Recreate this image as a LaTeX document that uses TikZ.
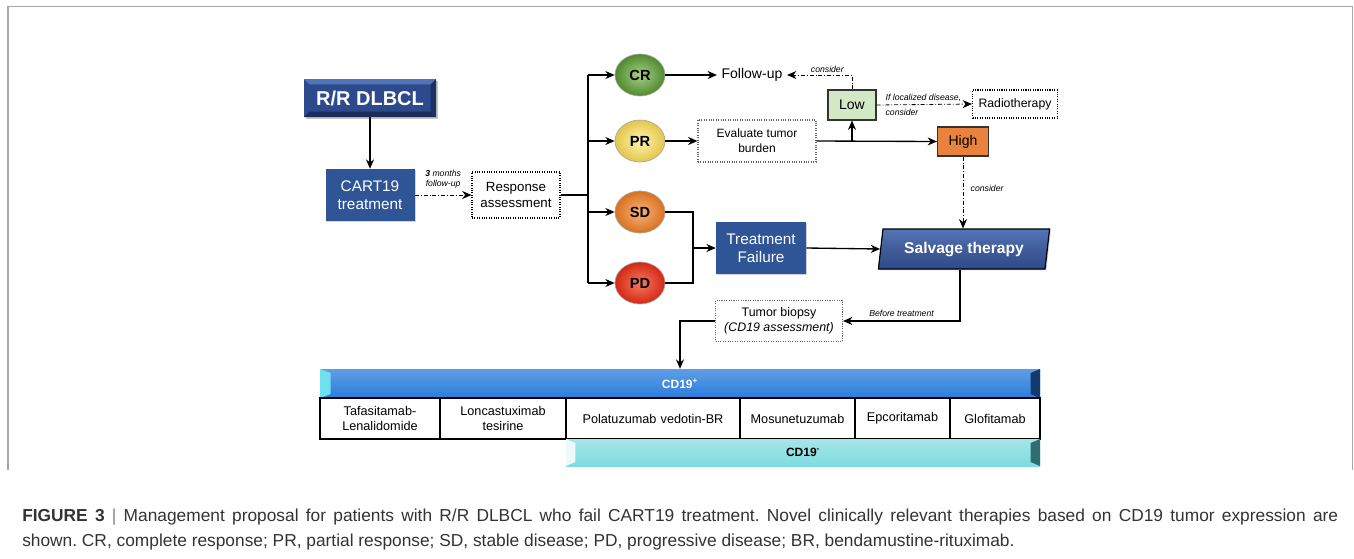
\documentclass[tikz,border=0pt]{standalone}
\usepackage{fontspec}
\setmainfont{Liberation Sans}
\usetikzlibrary{arrows.meta,positioning,shapes.geometric,shadows}
\definecolor{navyblue}{HTML}{2C4A8C}
\definecolor{navydark}{HTML}{1A2C58}
\definecolor{navylight}{HTML}{5275B8}
\definecolor{boxblue}{HTML}{2F5597}
\definecolor{lowgreen}{HTML}{D3E8C5}
\definecolor{highorange}{HTML}{E8823C}
\definecolor{posblue}{HTML}{2A7DDD}
\definecolor{posdark}{HTML}{123A70}
\definecolor{poslight}{HTML}{6FE0F0}
\definecolor{negcyan}{HTML}{7EDCDE}
\definecolor{negdark}{HTML}{2E6E72}
\definecolor{framegray}{HTML}{A8A8A8}
\definecolor{captext}{HTML}{333333}
\definecolor{crin}{HTML}{A8D08A}
\definecolor{crout}{HTML}{4E8A2C}
\definecolor{prin}{HTML}{FFF4B0}
\definecolor{prout}{HTML}{E2C64A}
\definecolor{sdin}{HTML}{F9B27C}
\definecolor{sdout}{HTML}{D8721E}
\definecolor{pdin}{HTML}{F87A62}
\definecolor{pdout}{HTML}{D22814}
\tikzset{
  rrbox/.style={
    rectangle,
    fill=navyblue,
    text=white,
    font=\bfseries\fontsize{15}{18}\selectfont,
    minimum width=99pt,
    minimum height=28.5pt,
    inner sep=0pt,
    drop shadow={shadow xshift=1.5pt,shadow yshift=-1.5pt,opacity=0.45},
    path picture={
      \fill[navylight] (path picture bounding box.north west) -- (path picture bounding box.north east)
        -- ([shift={(-4pt,-4pt)}]path picture bounding box.north east) -- ([shift={(4pt,-4pt)}]path picture bounding box.north west) -- cycle;
      \fill[navydark] (path picture bounding box.south west) -- (path picture bounding box.south east)
        -- ([shift={(-4pt,4pt)}]path picture bounding box.south east) -- ([shift={(4pt,4pt)}]path picture bounding box.south west) -- cycle;
      \fill[navydark!80!navyblue] (path picture bounding box.north east) -- (path picture bounding box.south east)
        -- ([shift={(-4pt,4pt)}]path picture bounding box.south east) -- ([shift={(-4pt,-4pt)}]path picture bounding box.north east) -- cycle;
    }
  },
  bluebox/.style={
    rectangle,
    fill=boxblue,
    text=white,
    align=center,
    font=\fontsize{11.5}{13.5}\selectfont,
    inner sep=0pt,
    drop shadow={shadow xshift=1pt,shadow yshift=-1pt,opacity=0.35}
  },
  dotbox/.style={
    rectangle,
    draw=black,
    densely dotted,
    line width=0.8pt,
    fill=white,
    align=center,
    inner sep=0pt,
    font=\fontsize{10}{12}\selectfont
  },
  respball/.style={
    ellipse,
    draw=gray!70,
    line width=0.5pt,
    minimum width=37.5pt,
    minimum height=31.5pt,
    inner sep=0pt,
    font=\bfseries\fontsize{11}{13}\selectfont
  },
  levelbox/.style={
    rectangle,
    draw=black!80,
    line width=0.8pt,
    inner sep=0pt,
    font=\fontsize{10.5}{12}\selectfont
  },
  salvbox/.style={
    trapezium,
    trapezium left angle=77,
    trapezium right angle=103,
    trapezium stretches=true,
    minimum width=129pt,
    minimum height=30pt,
    inner sep=0pt,
    draw=black,
    line width=0.9pt,
    top color=navylight,
    bottom color=navyblue,
    middle color=navyblue!90!white,
    text=white,
    font=\bfseries\fontsize{11.7}{14}\selectfont,
    drop shadow={shadow xshift=1pt,shadow yshift=-1pt,opacity=0.35}
  },
  drugcell/.style={
    rectangle,
    draw=black,
    line width=0.8pt,
    minimum height=30.75pt,
    inner sep=0pt,
    outer sep=0pt,
    align=center,
    font=\fontsize{9.5}{11.5}\selectfont
  },
  cdbar/.style={
    rectangle,
    inner sep=0pt,
    font=\bfseries\fontsize{9}{11}\selectfont
  },
  flowline/.style={-{Stealth[length=7pt,width=6pt]},line width=1pt},
  plainline/.style={line width=1pt},
  dashflow/.style={-{Stealth[length=7pt,width=6pt]},line width=0.6pt,dash pattern=on 3pt off 1.5pt on 0.6pt off 1.5pt},
  smallnote/.style={font=\itshape\fontsize{6.5}{7.5}\selectfont,inner sep=1.5pt}
}
\begin{document}
\begin{tikzpicture}[x=0.75pt,y=-0.75pt]
  \useasboundingbox (0,0) rectangle (1354,558);
  \draw[framegray,line width=0.9pt] (8,470) -- (8,6.5) -- (1352.5,6.5) -- (1352.5,470);

  % start and response
  \node[rrbox] (rr) at (370,98) {R/R DLBCL};
  \node[bluebox,minimum width=66.75pt,minimum height=39pt] (cart) at (370,195) {CART19\\treatment};
  \node[dotbox,minimum width=66pt,minimum height=34.5pt] (resp) at (516,195) {Response\\assessment};
  \coordinate (trunk) at (588,195);

  \node[respball,inner color=crin,outer color=crout] (cr) at (640,75) {CR};
  \node[respball,inner color=prin,outer color=prout] (pr) at (640,141) {PR};
  \node[respball,inner color=sdin,outer color=sdout] (sd) at (640,212) {SD};
  \node[respball,inner color=pdin,outer color=pdout] (pd) at (640,283) {PD};

  % CR / PR branch
  \node[font=\fontsize{10.5}{12}\selectfont] (fu) at (752,75) {Follow-up};
  \node[levelbox,fill=lowgreen,minimum width=36pt,minimum height=22.5pt] (low) at (852,105) {Low};
  \node[dotbox,font=\fontsize{9.2}{11}\selectfont,minimum width=63.75pt,minimum height=21pt] (radio) at (1015,104) {Radiotherapy};
  \node[dotbox,draw=black!60,font=\fontsize{9}{11}\selectfont,minimum width=88.5pt,minimum height=31.5pt] (evb) at (757,141) {Evaluate tumor\\burden};
  \node[levelbox,fill=highorange,minimum width=38.25pt,minimum height=21.75pt] (high) at (963,141.5) {High};

  % SD / PD branch
  \node[bluebox,minimum width=67.5pt,minimum height=39pt] (tf) at (761,248) {Treatment\\Failure};
  \node[salvbox] (salv) at (964,249) {Salvage therapy};
  \node[dotbox,draw=black!60,font=\fontsize{9.3}{11.5}\selectfont,minimum width=95.25pt,minimum height=30.75pt] (bio) at (779,321) {Tumor biopsy\\\textit{(CD19 assessment)}};

  % CD19 bars and drugs
  \node[cdbar,text=white,minimum width=540pt,minimum height=21.75pt,top color=posblue!75!white,bottom color=posblue,
    path picture={
      \fill[poslight] (path picture bounding box.south west) -- (path picture bounding box.north west)
        -- ([shift={(8pt,-3pt)}]path picture bounding box.north west) -- ([shift={(8pt,3pt)}]path picture bounding box.south west) -- cycle;
      \fill[posdark] (path picture bounding box.south east) -- (path picture bounding box.north east)
        -- ([shift={(-7pt,-3pt)}]path picture bounding box.north east) -- ([shift={(-7pt,3pt)}]path picture bounding box.south east) -- cycle;
    }] (cdpos) at (680,383.5) {CD19\textsuperscript{+}};
  \node[drugcell,text width=90pt,anchor=north west] (tafa) at (320,398) {Tafasitamab-\\Lenalidomide};
  \node[drugcell,text width=94.5pt,right=0pt of tafa] (lonca) {Loncastuximab\\tesirine};
  \node[drugcell,text width=130.5pt,right=0pt of lonca] (pola) {Polatuzumab vedotin-BR};
  \node[drugcell,text width=86.25pt,right=0pt of pola] (mosun) {Mosunetuzumab};
  \node[drugcell,text width=71.25pt,right=0pt of mosun] (epco) {Epcoritamab};
  \node[drugcell,text width=67.5pt,right=0pt of epco] (glofi) {Glofitamab};
  \node[cdbar,minimum width=355.5pt,minimum height=20.25pt,top color=negcyan!70!white,bottom color=negcyan,
    path picture={
      \fill[white!85!negcyan] (path picture bounding box.south west) -- (path picture bounding box.north west)
        -- ([shift={(7pt,-3pt)}]path picture bounding box.north west) -- ([shift={(7pt,3pt)}]path picture bounding box.south west) -- cycle;
      \fill[negdark] (path picture bounding box.south east) -- (path picture bounding box.north east)
        -- ([shift={(-7pt,-3pt)}]path picture bounding box.north east) -- ([shift={(-7pt,3pt)}]path picture bounding box.south east) -- cycle;
    }] (cdneg) at (803,452.5) {CD19\textsuperscript{-}};

  % connectors
  \draw[flowline] (rr.south) -- (cart.north);
  \draw[dashflow] (cart.east) -- node[smallnote,above,align=center,yshift=3pt] {\textbf{3} months\\follow-up} (resp.west);
  \draw[plainline] (resp.east) -- (trunk);
  \draw[plainline] (trunk |- cr.west) -- (trunk |- pd.west);
  \foreach \ball in {cr,pr,sd,pd}
    \draw[flowline] (trunk |- \ball.west) -- (\ball.west);
  \draw[flowline] (cr.east) -- (fu.west);
  \draw[dashflow] (low.north) |- node[smallnote,pos=0.69,above] {consider} (fu.east);
  \draw[dashflow] (low.east) -- node[smallnote,pos=0,anchor=south west,xshift=5pt,yshift=1pt] {If localized disease,}
    node[smallnote,pos=0,anchor=north west,xshift=5pt,yshift=-1pt] {consider} (radio.west);
  \draw[flowline] (pr.east) -- (evb.west);
  \draw[flowline] (evb.east) -- (high.west);
  \draw[flowline] (low.south |- evb.east) -- (low.south);
  \draw[dashflow] (high.south) -- node[smallnote,right,xshift=4pt,pos=0.45] {consider} (high.south |- salv.north);
  \coordinate (merge) at (693,248);
  \draw[plainline] (sd.east) -- (sd.east -| merge) -- (pd.east -| merge) -- (pd.east);
  \draw[flowline] (merge) -- (tf.west);
  \draw[flowline] (tf.east) -- (salv.west);
  \draw[flowline] ([xshift=-3pt]salv.south) |- node[smallnote,pos=0.75,above,yshift=1pt] {Before treatment} (bio.east);
  \draw[flowline] (bio.west) -| (cdpos.north);

  % caption
  \node[anchor=north west,inner sep=0pt,text width=987pt,align=justify,text=captext,font=\fontsize{13}{18.75}\selectfont] (cap) at (22,509)
    {\frenchspacing\textbf{FIGURE 3} {\color{gray}|} Management proposal for patients with R/R DLBCL who fail CART19 treatment. Novel clinically relevant therapies based on CD19 tumor expression are\linebreak shown. CR, complete response; PR, partial response; SD, stable disease; PD, progressive disease; BR, bendamustine-rituximab.};
\end{tikzpicture}
\end{document}
